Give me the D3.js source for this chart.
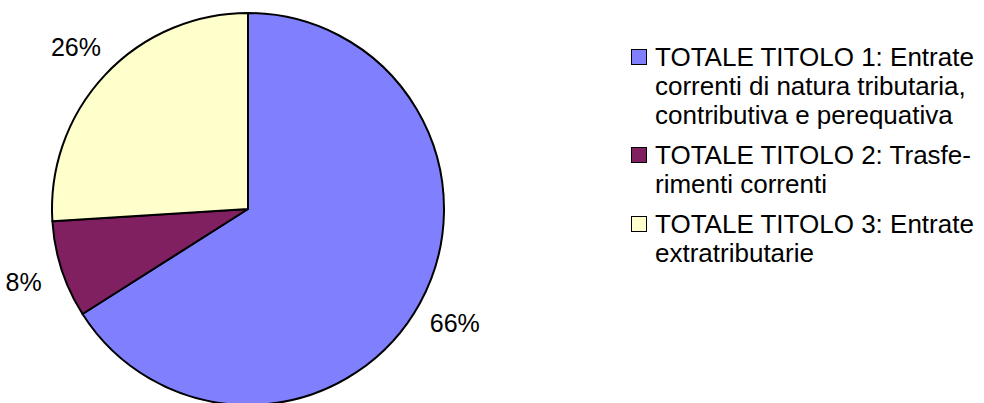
<!DOCTYPE html>
<html>
<head>
<meta charset="utf-8">
<script src="https://cdn.jsdelivr.net/npm/d3@7"></script>
<style>
  html, body { margin: 0; padding: 0; background: #fff; }
  svg { display: block; font-family: "Liberation Sans", Arial, sans-serif; }
</style>
</head>
<body>
<div id="chart"></div>
<script>
var categories = [
  ["TOTALE TITOLO 1: Entrate", "correnti di natura tributaria,", "contributiva e perequativa"],
  ["TOTALE TITOLO 2: Trasfe-", "rimenti correnti"],
  ["TOTALE TITOLO 3: Entrate", "extratributarie"]
];
var shares = [66, 8, 26];
var sliceColors = ["#8080ff", "#802060", "#ffffcc"];

var width = 984, height = 403;
var cx = 248, cy = 209, radius = 196;
var labelRadius = 236;

var svg = d3.select("#chart")
  .append("svg")
  .attr("width", width)
  .attr("height", height);

var pie = d3.pie()
  .sort(null)
  .value(function(d) { return d; });

var arcs = pie(shares);

var arc = d3.arc().innerRadius(0).outerRadius(radius);
var labelArc = d3.arc().innerRadius(labelRadius).outerRadius(labelRadius);

var g = svg.append("g")
  .attr("transform", "translate(" + cx + "," + cy + ")");

g.selectAll("path.slice")
  .data(arcs)
  .enter()
  .append("path")
  .attr("class", "slice")
  .attr("d", arc)
  .attr("fill", function(d, i) { return sliceColors[i]; })
  .attr("stroke", "#000")
  .attr("stroke-width", 2)
  .attr("stroke-linejoin", "round");

g.selectAll("text.pct")
  .data(arcs)
  .enter()
  .append("text")
  .attr("class", "pct")
  .attr("x", function(d) { return labelArc.centroid(d)[0]; })
  .attr("y", function(d) { return labelArc.centroid(d)[1]; })
  .attr("text-anchor", "middle")
  .attr("dy", "0.36em")
  .attr("font-size", 25)
  .attr("fill", "#000")
  .text(function(d) { return d.data + "%"; });

// legend: each entry may wrap on several lines
var legendX = 631, legendTextX = 655;
var lineHeight = 29, entryGap = 11;
var legend = svg.append("g").attr("class", "legend");
var baseline = 66;

categories.forEach(function(lines, i) {
  var entry = legend.append("g");
  entry.append("rect")
    .attr("x", legendX + 0.5)
    .attr("y", baseline - 17 + 0.5)
    .attr("width", 15)
    .attr("height", 15)
    .attr("fill", sliceColors[i])
    .attr("stroke", "#000")
    .attr("stroke-width", 1);
  entry.selectAll("text")
    .data(lines)
    .enter()
    .append("text")
    .attr("x", legendTextX)
    .attr("y", function(d, j) { return baseline + j * lineHeight; })
    .attr("font-size", 26)
    .attr("fill", "#000")
    .text(function(d) { return d; });
  baseline += lines.length * lineHeight + entryGap;
});
</script>
</body>
</html>
